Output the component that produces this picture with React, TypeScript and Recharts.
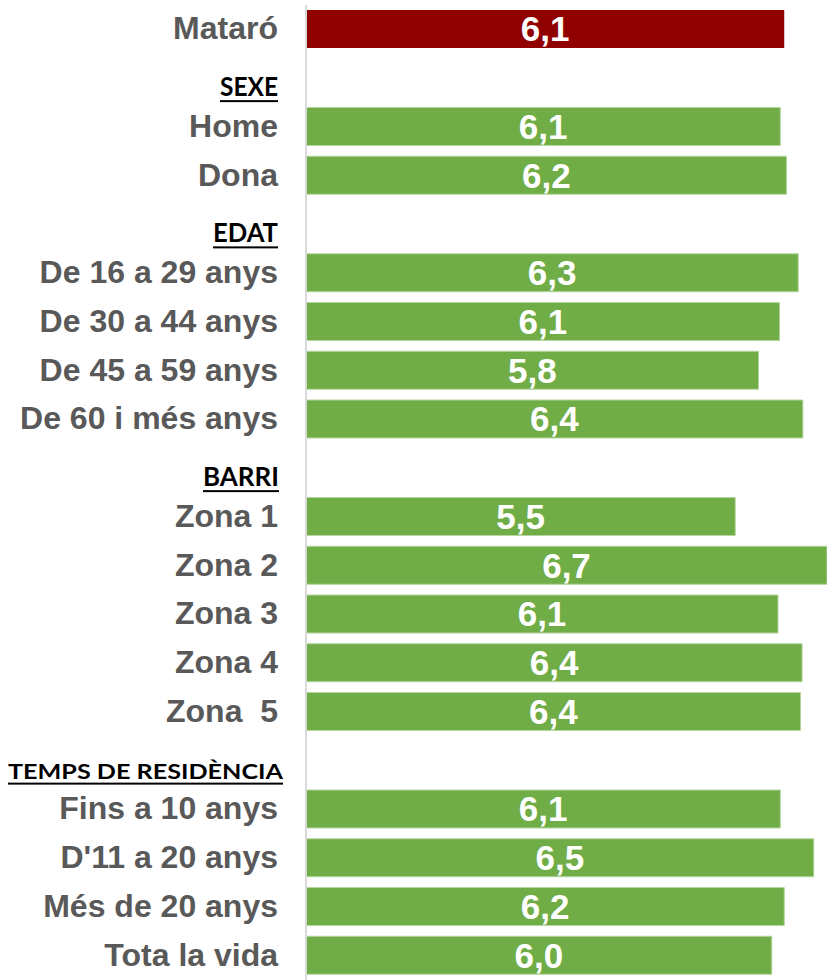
import React from 'react';
import { BarChart, Bar, XAxis, YAxis, Cell, LabelList } from 'recharts';

const categories = [
  'Mataró',
  'SEXE',
  'Home',
  'Dona',
  'EDAT',
  'De 16 a 29 anys',
  'De 30 a 44 anys',
  'De 45 a 59 anys',
  'De 60 i més anys',
  'BARRI',
  'Zona 1',
  'Zona 2',
  'Zona 3',
  'Zona 4',
  'Zona  5',
  'TEMPS DE RESIDÈNCIA',
  'Fins a 10 anys',
  "D'11 a 20 anys",
  'Més de 20 anys',
  'Tota la vida',
];

const values: (number | null)[] = [
  6.15, null, 6.1, 6.18, null, 6.33, 6.09, 5.82, 6.39, null,
  5.52, 6.7, 6.07, 6.38, 6.36, null, 6.1, 6.53, 6.15, 5.99,
];

const valueLabels = [
  '6,1', '', '6,1', '6,2', '', '6,3', '6,1', '5,8', '6,4', '',
  '5,5', '6,7', '6,1', '6,4', '6,4', '', '6,1', '6,5', '6,2', '6,0',
];

const headers = ['SEXE', 'EDAT', 'BARRI', 'TEMPS DE RESIDÈNCIA'];
const highlighted = 'Mataró';

const data = categories.map((name, i) => ({
  name,
  value: values[i],
  label: valueLabels[i],
}));

const HEADER_STYLE: Record<string, { width: number; right: number; size: number }> = {
  SEXE: { width: 58, right: 278, size: 26 },
  EDAT: { width: 65, right: 278, size: 26 },
  BARRI: { width: 76, right: 279, size: 26 },
  'TEMPS DE RESIDÈNCIA': { width: 275, right: 283, size: 21 },
};

const ARIAL = "'Liberation Sans', Arial, sans-serif";

function CategoryTick(props: any) {
  const { x, y, payload } = props;
  const name: string = payload.value;
  if (headers.includes(name)) {
    const h = HEADER_STYLE[name];
    const base = y + 18;
    return (
      <g>
        <text
          x={h.right}
          y={base}
          textAnchor="end"
          fontFamily="Lato, 'Open Sans', sans-serif"
          fontWeight={700}
          fontSize={h.size}
          fill="#000000"
          textLength={h.width}
          lengthAdjust="spacingAndGlyphs"
        >
          {name}
        </text>
        <rect x={h.right - h.width} y={base + 4} width={h.width} height={2} fill="#000000" />
      </g>
    );
  }
  return (
    <text
      x={x}
      y={y + 10}
      textAnchor="end"
      fontFamily={ARIAL}
      fontWeight={700}
      fontSize={32}
      fill="#595959"
      style={{ whiteSpace: 'pre' }}
    >
      {name}
    </text>
  );
}

export default function App() {
  return (
    <div style={{ position: 'absolute', left: 0, top: 0, background: '#fff' }}>
      <BarChart
        width={833}
        height={980}
        data={data}
        layout="vertical"
        margin={{ top: 5, right: 6, bottom: 0, left: 0 }}
      >
        <XAxis type="number" hide domain={[0, 6.7]} allowDataOverflow />
        <YAxis
          type="category"
          dataKey="name"
          width={306}
          interval={0}
          tickLine={false}
          tickSize={0}
          tickMargin={28}
          axisLine={{ stroke: '#d9d9d9', strokeWidth: 2 }}
          tick={<CategoryTick />}
        />
        <Bar dataKey="value" barSize={38} isAnimationActive={false}>
          {data.map((d) => (
            <Cell
              key={d.name}
              fill={d.name === highlighted ? '#900000' : '#70ad47'}
              stroke={d.name === highlighted ? 'none' : '#b5d69f'}
              strokeWidth={1}
            />
          ))}
          <LabelList
            dataKey="label"
            position="center"
            fill="#ffffff"
            fontSize={35}
            fontWeight={700}
            fontFamily={ARIAL}
          />
        </Bar>
      </BarChart>
    </div>
  );
}
